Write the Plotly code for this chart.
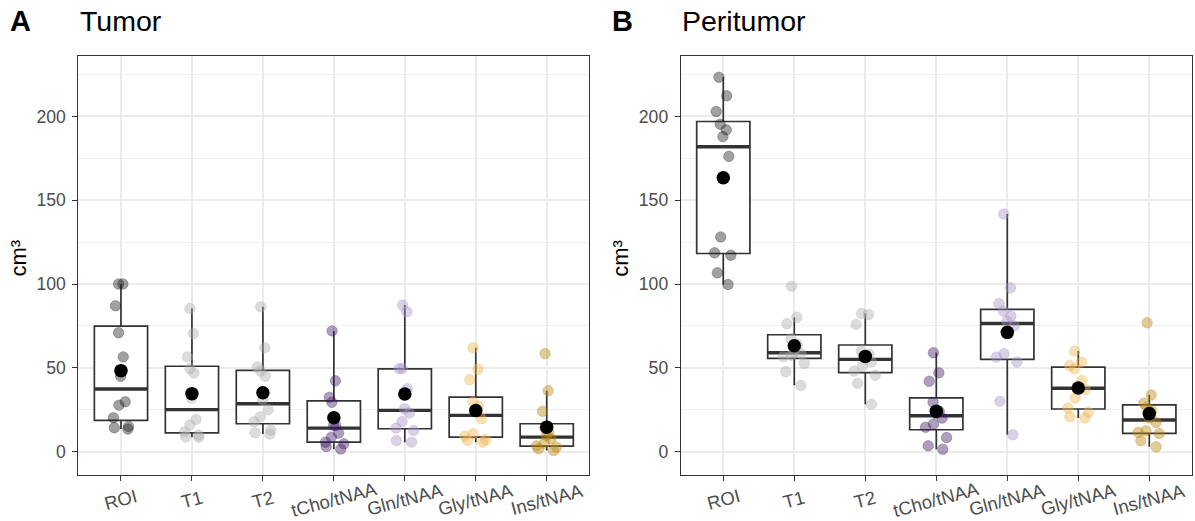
import numpy as np
import plotly.graph_objects as go

groups = ["ROI", "T1", "T2", "tCho/tNAA", "Gln/tNAA", "Gly/tNAA", "Ins/tNAA"]
point_colors = ["#1e1e1e", "#acacac", "#acacac", "#3f1a63", "#a593c6", "#efb24d", "#b8860b"]

# ---- Tumor panel: individual values ----
tumor_roi = [100, 100, 87, 70.9, 56.5, 44.9, 29.7, 27.7, 20.2, 15, 14.2, 13.4]
tumor_t1 = [85.4, 70.5, 56.5, 49.5, 46.9, 31.9, 19.2, 15.8, 11.8, 9.9, 8.8, 8.5]
tumor_t2 = [86.4, 61.9, 50.5, 48.1, 44.9, 31, 25, 20.8, 17.8, 12.8, 11.2, 10.4]
tumor_tcho = [72, 42.2, 32.4, 29.4, 15.6, 15.6, 11, 8.6, 5.6, 4.6, 3, 1.5]
tumor_gln = [87.4, 83.4, 49.5, 49.5, 37.5, 25.5, 23, 18, 14, 12.6, 6.6, 5.6]
tumor_gly = [62, 49.1, 42.9, 29.5, 27, 24, 19.6, 10.6, 9.2, 7, 6.6, 5.6]
tumor_ins = [58.5, 36.3, 24, 14, 11.6, 9.6, 7.6, 5, 3.4, 2.6, 1.6, 0.6]

# ---- Tumor panel: box statistics ----
tumor_q1 = [18.6, 11.2, 16.6, 5.6, 13.6, 8.6, 3.2]
tumor_median = [37.3, 25.0, 28.5, 14.0, 24.6, 21.6, 8.6]
tumor_q3 = [74.9, 50.9, 48.5, 30.2, 49.3, 32.5, 16.6]
tumor_lower = [13.4, 8.5, 10.4, 1.5, 5.6, 5.6, 0.6]
tumor_upper = [100, 85.4, 86.4, 72, 87.4, 62, 36.3]

# ---- Peritumor panel: individual values ----
peri_roi = [223.4, 212.3, 203, 195.4, 192, 188, 176.2, 128.1, 118.6, 117.2, 106.7, 99.7]
peri_t1 = [98.7, 80.2, 76.3, 67.3, 64, 59.5, 58.5, 57.5, 56.6, 52.6, 47.7, 39.5]
peri_t2 = [82.4, 81.8, 75.9, 60, 58, 56.5, 53.5, 51, 48, 45.5, 40.7, 28.2]
peri_tcho = [59, 47, 42, 29.4, 24, 22.8, 20, 16.4, 14.5, 8.4, 3.4, 1.4]
peri_gln = [141.8, 97.8, 88.4, 83.8, 80.8, 77.8, 75, 58.4, 56.4, 53.4, 30, 10]
peri_gly = [60, 53.4, 51.4, 49.4, 42.4, 38.5, 37, 32, 26, 23.5, 20.8, 20]
peri_ins = [76.8, 33.8, 28.8, 26.5, 24.4, 20, 17.4, 12.4, 11.5, 10.8, 6.4, 2.8]

# ---- Peritumor panel: box statistics ----
peri_q1 = [118.2, 55.6, 47.1, 13.0, 55.0, 25.4, 10.8]
peri_median = [181.9, 59.0, 55.0, 21.4, 76.4, 37.8, 18.8]
peri_q3 = [197.0, 69.7, 63.6, 32.0, 84.8, 50.4, 27.8]
peri_lower = [99.7, 39.5, 28.2, 1.4, 10, 20, 2.8]
peri_upper = [223.4, 80.2, 82.4, 59, 141.8, 60, 33.8]

tumor_points = [tumor_roi, tumor_t1, tumor_t2, tumor_tcho, tumor_gln, tumor_gly, tumor_ins]
peri_points = [peri_roi, peri_t1, peri_t2, peri_tcho, peri_gln, peri_gly, peri_ins]

FONT = "Liberation Sans, Arial, Helvetica, sans-serif"
BOXLINE = "#333333"


def rgba(hexc, a):
    h = hexc.lstrip("#")
    r, g, b = int(h[0:2], 16), int(h[2:4], 16), int(h[4:6], 16)
    return f"rgba({r},{g},{b},{a})"


fig = go.Figure()


def add_panel(points, q1, med, q3, lo, hi, xa, ya):
    # boxes with whiskers
    fig.add_trace(go.Box(
        x=groups, q1=q1, median=med, q3=q3, lowerfence=lo, upperfence=hi,
        orientation="v", width=0.75, whiskerwidth=0, boxpoints=False,
        fillcolor="white", line=dict(color=BOXLINE, width=1.7),
        xaxis=xa, yaxis=ya, hoverinfo="skip"))
    # thick median line
    fig.add_trace(go.Box(
        x=groups, q1=med, median=med, q3=med, lowerfence=med, upperfence=med,
        orientation="v", width=0.75, whiskerwidth=0, boxpoints=False,
        fillcolor="rgba(0,0,0,0)", line=dict(color=BOXLINE, width=3.4),
        xaxis=xa, yaxis=ya, hoverinfo="skip"))
    # jittered points
    for g, vals, c in zip(groups, points, point_colors):
        fig.add_trace(go.Box(
            x=[g] * len(vals), y=vals, orientation="v", width=0.75,
            boxpoints="all", jitter=0.5, pointpos=0,
            fillcolor="rgba(0,0,0,0)", line=dict(width=0, color="rgba(0,0,0,0)"),
            whiskerwidth=0,
            marker=dict(size=10.5, color=rgba(c, 0.42),
                        line=dict(color=rgba(c, 0.3), width=1)),
            xaxis=xa, yaxis=ya, hoverinfo="y"))
    # means
    fig.add_trace(go.Scatter(
        x=groups, y=[float(np.mean(v)) for v in points], mode="markers",
        marker=dict(color="black", size=13.5), xaxis=xa, yaxis=ya,
        hoverinfo="y"))


add_panel(tumor_points, tumor_q1, tumor_median, tumor_q3, tumor_lower, tumor_upper, "x", "y")
add_panel(peri_points, peri_q1, peri_median, peri_q3, peri_lower, peri_upper, "x2", "y2")

W, H = 1195, 521
left_dom = [78.4 / W, 589.3 / W]
right_dom = [680.7 / W, 1191.9 / W]
y_dom = [(H - 474.5) / H, (H - 55.8) / H]

xcommon = dict(type="category", categoryorder="array", categoryarray=groups,
               range=[-0.6, 6.6], showgrid=True, gridcolor="#ebebeb", gridwidth=1.5,
               ticks="outside", ticklen=5, tickwidth=1.2, tickcolor=BOXLINE,
               showticklabels=False, showline=True, linecolor=BOXLINE, linewidth=1,
               mirror=True, zeroline=False)
ycommon = dict(range=[-13.7, 236.2], tickmode="linear", tick0=0, dtick=50,
               showgrid=True, gridcolor="#ebebeb", gridwidth=1.5,
               minor=dict(tickmode="linear", tick0=25, dtick=50, showgrid=True,
                          gridcolor="#f0f0f0", gridwidth=0.8, ticks=""),
               ticks="outside", ticklen=5, tickwidth=1.2, tickcolor=BOXLINE,
               tickfont=dict(family=FONT, size=17.6, color="#4d4d4d"),
               ticklabelstandoff=3,
               showline=True, linecolor=BOXLINE, linewidth=1, mirror=True,
               zeroline=False)

fig.update_layout(
    width=W, height=H, margin=dict(l=0, r=0, t=0, b=0),
    paper_bgcolor="white", plot_bgcolor="white", showlegend=False,
    boxmode="overlay",
    xaxis=dict(domain=left_dom, anchor="y", **xcommon),
    yaxis=dict(domain=y_dom, anchor="x", **ycommon),
    xaxis2=dict(domain=right_dom, anchor="y2", **xcommon),
    yaxis2=dict(domain=y_dom, anchor="x2", **ycommon),
)

ann = []
label_y = (H - 499) / H
for xa in ["x", "x2"]:
    for g in groups:
        ann.append(dict(x=g, xref=xa, y=label_y, yref="paper", text=g,
                        textangle=-15, showarrow=False, xanchor="center",
                        yanchor="middle",
                        font=dict(family=FONT, size=18.5, color="#4d4d4d")))

offset = 602.3
for i, (tag, title) in enumerate([("A", "Tumor"), ("B", "Peritumor")]):
    dx = i * offset
    ann.append(dict(x=(8 + dx) / W, y=(H - 21) / H, xref="paper", yref="paper",
                    text=f"<b>{tag}</b>", showarrow=False, xanchor="left",
                    yanchor="middle", font=dict(family=FONT, size=29, color="black")))
    ann.append(dict(x=(78 + dx) / W, y=(H - 21) / H, xref="paper", yref="paper",
                    text=title, showarrow=False, xanchor="left",
                    yanchor="middle", font=dict(family=FONT, size=28.5, color="black")))
    ann.append(dict(x=(17.5 + dx) / W, y=(H - 258) / H, xref="paper", yref="paper",
                    text="cm³", textangle=-90, showarrow=False, xanchor="center",
                    yanchor="middle", font=dict(family=FONT, size=22, color="black")))

fig.update_layout(annotations=ann)
fig.write_html("out.html", config={"displayModeBar": False},
               post_script="document.body.style.margin='0';document.documentElement.style.margin='0';")
